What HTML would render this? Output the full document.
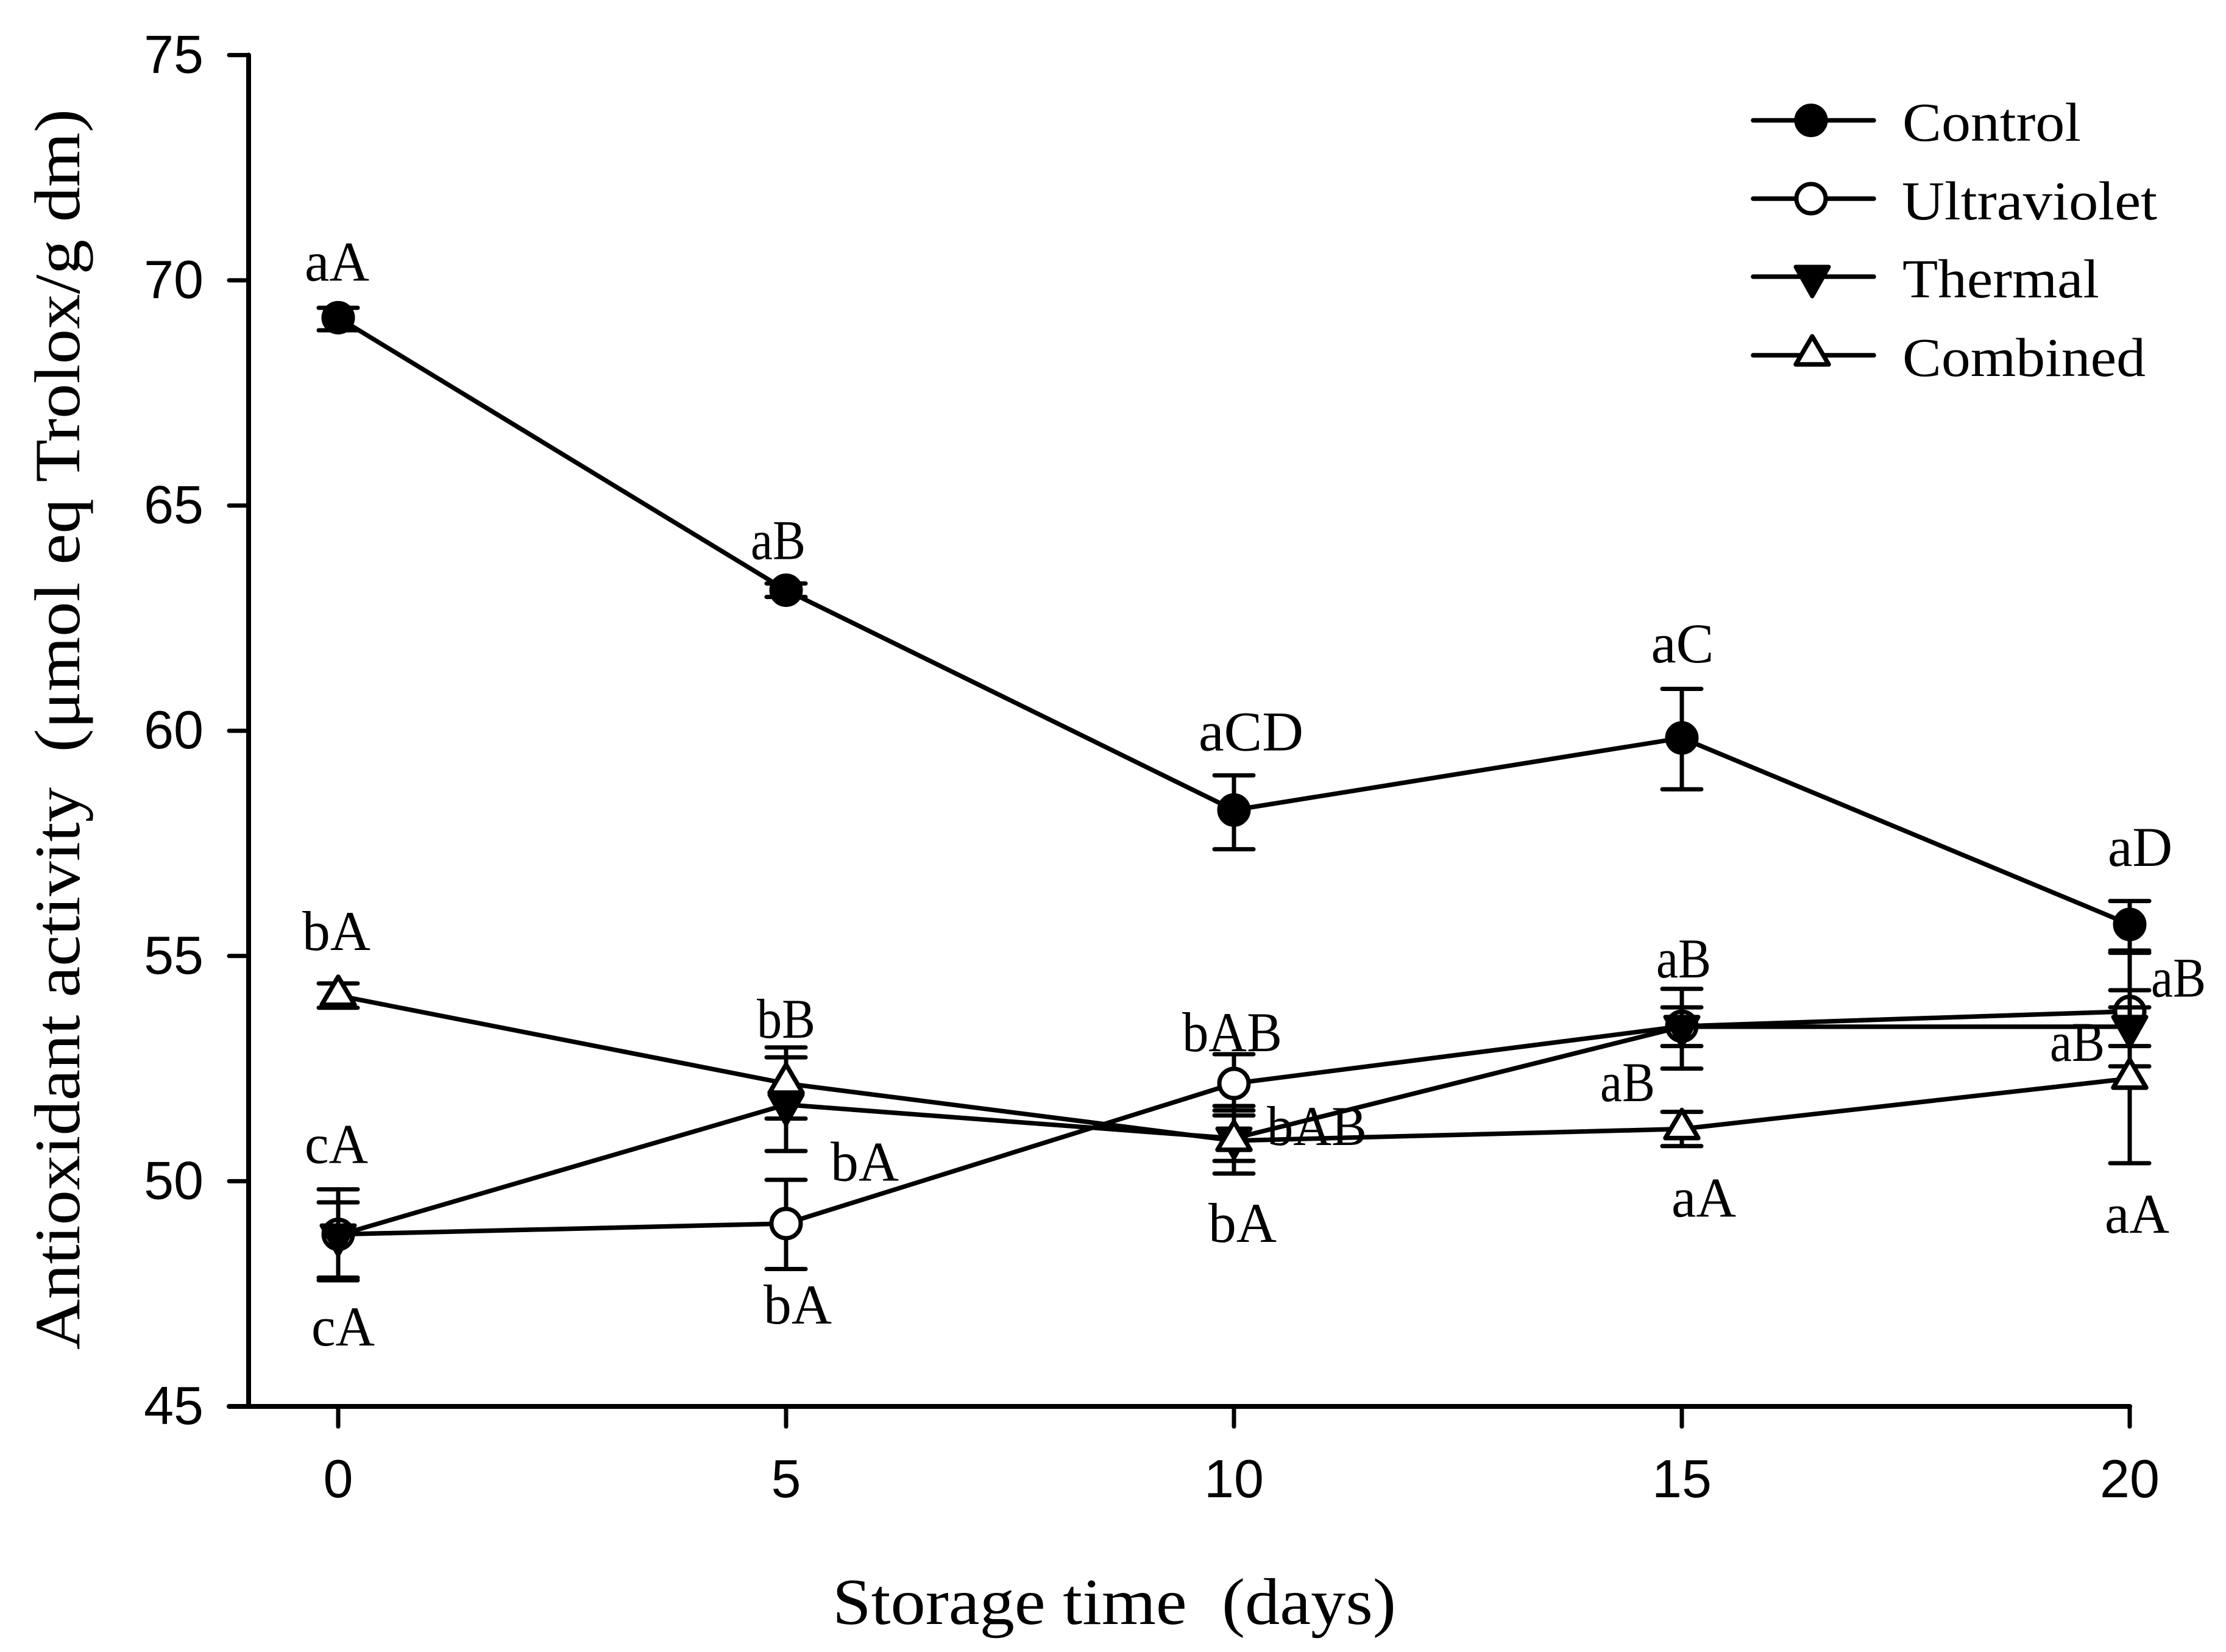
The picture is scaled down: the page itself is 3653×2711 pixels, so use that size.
<!DOCTYPE html>
<html lang="en">
<head>
<meta charset="utf-8">
<title>Antioxidant activity during storage</title>
<style>
html,body{margin:0;padding:0;background:#fff;}
svg{display:block;}
text{fill:#000;}
.serif{font-family:"Liberation Serif",serif;}
.sans{font-family:"Liberation Sans",sans-serif;}
</style>
</head>
<body>
<svg id="chart" xmlns="http://www.w3.org/2000/svg" width="3653" height="2711" viewBox="0 0 3653 2711">
  <rect x="0" y="0" width="3653" height="2711" fill="#fff"/>
  <g id="axes"></g>
  <g id="series"></g>
  <g id="annotations"></g>

  <text class="serif" font-size="106" textLength="2036" lengthAdjust="spacingAndGlyphs" transform="translate(130 2215) rotate(-90)">Antioxidant activity&#160;&#160;(μmol eq Trolox/g dm)</text>
  <text class="serif" font-size="108" x="1366" y="2665" textLength="925" lengthAdjust="spacingAndGlyphs">Storage time&#160;&#160;(days)</text>

  <g id="legend">
    <g>
      <line x1="2877" y1="197.5" x2="3075" y2="197.5" stroke="#000" stroke-width="7.5" stroke-linecap="round"/>
      <circle cx="2972" cy="197.5" r="24" fill="#000" stroke="#000" stroke-width="7"/>
      <text class="serif" font-size="90" x="3122" y="231" textLength="293" lengthAdjust="spacingAndGlyphs">Control</text>
    </g>
    <g>
      <line x1="2877" y1="326" x2="3075" y2="326" stroke="#000" stroke-width="7.5" stroke-linecap="round"/>
      <circle cx="2972" cy="326" r="24" fill="#fff" stroke="#000" stroke-width="7"/>
      <text class="serif" font-size="90" x="3121" y="360" textLength="419" lengthAdjust="spacingAndGlyphs">Ultraviolet</text>
    </g>
    <g>
      <line x1="2877" y1="454" x2="3075" y2="454" stroke="#000" stroke-width="7.5" stroke-linecap="round"/>
      <polygon points="2947,438 3001,438 2974,486" fill="#000" stroke="#000" stroke-width="7" stroke-linejoin="round"/>
      <text class="serif" font-size="90" x="3122" y="488" textLength="323" lengthAdjust="spacingAndGlyphs">Thermal</text>
    </g>
    <g>
      <line x1="2877" y1="583" x2="3075" y2="583" stroke="#000" stroke-width="7.5" stroke-linecap="round"/>
      <polygon points="2974,552 3001,598 2947,598" fill="#fff" stroke="#000" stroke-width="7.5" stroke-linejoin="round"/>
      <text class="serif" font-size="90" x="3122" y="617" textLength="399" lengthAdjust="spacingAndGlyphs">Combined</text>
    </g>
  </g>
</svg>

<script>
const days = [0, 5, 10, 15, 20];
const xTickLabels = ['0', '5', '10', '15', '20'];
const yTickLabels = ['45', '50', '55', '60', '65', '70', '75'];

const controlMean = [69.17, 63.12, 58.24, 59.84, 55.70];
const controlHigh = [69.39, 63.27, 59.01, 60.93, 56.22];
const controlLow  = [68.89, 62.97, 57.37, 58.70, 55.12];
const controlLabels = ['aA', 'aB', 'aCD', 'aC', 'aD'];

const ultravioletMean = [48.82, 49.06, 52.17, 53.44, 53.77];
const ultravioletHigh = [49.82, 50.03, 52.82, 54.27, 55.07];
const ultravioletLow  = [47.86, 48.05, 51.57, 52.50, 52.55];
const ultravioletLabels = ['cA', 'bA', 'bAB', 'aB', 'aB'];

const thermalMean = [48.80, 51.70, 50.95, 53.43, 53.43];
const thermalHigh = [49.53, 52.75, 51.46, 53.86, 53.86];
const thermalLow  = [47.80, 50.67, 50.45, 53.00, 53.00];
const thermalLabels = ['cA', 'bA', 'bA', 'aB', 'aB'];

const combinedMean = [54.12, 52.17, 50.90, 51.16, 52.28];
const combinedHigh = [54.39, 52.97, 51.67, 51.54, 54.24];
const combinedLow  = [53.85, 51.39, 50.17, 50.78, 50.40];
const combinedLabels = ['bA', 'bB', 'bAB', 'aA', 'aA'];

function xScale(day) { return 555 + 147 * day; }
function yScale(value) { return 2308 - (value - 45) * 73.92; }

const NS = 'http://www.w3.org/2000/svg';
function mk(tag, parent, attrs) {
  const node = document.createElementNS(NS, tag);
  for (const key in attrs) node.setAttribute(key, attrs[key]);
  parent.appendChild(node);
  return node;
}

function drawAxes() {
  const axes = document.getElementById('axes');
  const ink = { stroke: '#000', 'stroke-linecap': 'round' };
  let el;

  el = mk('line', axes, Object.assign({ x1: 408, y1: yScale(75), x2: 408, y2: yScale(45), 'stroke-width': 8 }, ink));
  
  

  el = mk('line', axes, Object.assign({ x1: 376, y1: yScale(45), x2: xScale(20), y2: yScale(45), 'stroke-width': 8 }, ink));
  
  

  yTickLabels.forEach(function (label) {
    const y = yScale(Number(label));
    const tick = mk('line', axes, Object.assign({ x1: 376, y1: y, x2: 408, y2: y, 'stroke-width': 7 }, ink));
    
    
    const text = mk('text', axes, { x: 334, y: y + 29, 'text-anchor': 'end', 'font-size': 88, class: 'sans' });
    text.textContent = label;
    
    
  });

  xTickLabels.forEach(function (label) {
    const x = xScale(Number(label));
    const tick = mk('line', axes, Object.assign({ x1: x, y1: yScale(45), x2: x, y2: 2341, 'stroke-width': 7 }, ink));
    
    
    const text = mk('text', axes, { x: x, y: 2457, 'text-anchor': 'middle', 'font-size': 88, class: 'sans' });
    text.textContent = label;
    
    
  });
}

function drawMarker(parent, kind, x, y) {
  let el;
  if (kind === 'filled-circle' || kind === 'open-circle') {
    el = mk('circle', parent, {
      cx: x, cy: y, r: 24,
      fill: kind === 'filled-circle' ? '#000' : '#fff',
      stroke: '#000', 'stroke-width': 7
    });
  } else if (kind === 'filled-down') {
    el = mk('polygon', parent, {
      points: (x - 27) + ',' + (y - 16) + ' ' + (x + 27) + ',' + (y - 16) + ' ' + x + ',' + (y + 32),
      fill: '#000', stroke: '#000', 'stroke-width': 7, 'stroke-linejoin': 'round'
    });
  } else {
    el = mk('polygon', parent, {
      points: x + ',' + (y - 31) + ' ' + (x + 27) + ',' + (y + 15) + ' ' + (x - 27) + ',' + (y + 15),
      fill: '#fff', stroke: '#000', 'stroke-width': 7.5, 'stroke-linejoin': 'round'
    });
  }
  return el;
}

function drawSeries(id, kind, means, highs, lows) {
  const root = document.getElementById('series');
  const group = mk('g', root, {});
  
  

  const points = days.map(function (d, i) { return xScale(d) + ',' + yScale(means[i]); }).join(' ');
  const path = mk('polyline', group, { points: points, fill: 'none', stroke: '#000', 'stroke-width': 7.5, 'stroke-linejoin': 'round' });
  
  

  days.forEach(function (d, i) {
    const x = xScale(d);
    const top = yScale(highs[i]);
    const bottom = yScale(lows[i]);
    const ink = { stroke: '#000', 'stroke-width': 7, 'stroke-linecap': 'round' };

    const stem = mk('line', group, Object.assign({ x1: x, y1: top, x2: x, y2: bottom }, ink));
    
    

    const capTop = mk('line', group, Object.assign({ x1: x - 32, y1: top, x2: x + 32, y2: top }, ink));
    
    

    const capBottom = mk('line', group, Object.assign({ x1: x - 32, y1: bottom, x2: x + 32, y2: bottom }, ink));
    
    

    const marker = drawMarker(group, kind, x, yScale(means[i]));
    
    
  });
}

function drawLabels(id, means, labels, offsets) {
  const widths = { aA: 106, aB: 90, aC: 103, aD: 106, aCD: 172, bA: 112, bB: 96, bAB: 164, cA: 104 };
  const root = document.getElementById('annotations');
  labels.forEach(function (label, i) {
    const text = mk('text', root, {
      x: xScale(days[i]) + offsets[i][0] - widths[label] / 2,
      y: yScale(means[i]) + offsets[i][1],
      'font-size': 92,
      class: 'serif',
      textLength: widths[label],
      lengthAdjust: 'spacingAndGlyphs'
    });
    text.textContent = label;
    
    
  });
}

drawAxes();
drawSeries('control', 'filled-circle', controlMean, controlHigh, controlLow);
drawSeries('ultraviolet', 'open-circle', ultravioletMean, ultravioletHigh, ultravioletLow);
drawSeries('thermal', 'filled-down', thermalMean, thermalHigh, thermalLow);
drawSeries('combined', 'open-up', combinedMean, combinedHigh, combinedLow);

drawLabels('control', controlMean, controlLabels, [[-2, -61], [-13, -51], [28, -98], [1, -124], [17, -96]]);
drawLabels('ultraviolet', ultravioletMean, ultravioletLabels, [[-3, -117], [19, 164], [-3, -53], [3, -80], [80, -24]]);
drawLabels('thermal', thermalMean, thermalLabels, [[8, 181], [129, 125], [14, 170], [-89, 122], [-86, 56]]);
drawLabels('combined', combinedMean, combinedLabels, [[-3, -75], [0, -75], [136, 7], [36, 144], [12, 253]]);
</script>
</body>
</html>
